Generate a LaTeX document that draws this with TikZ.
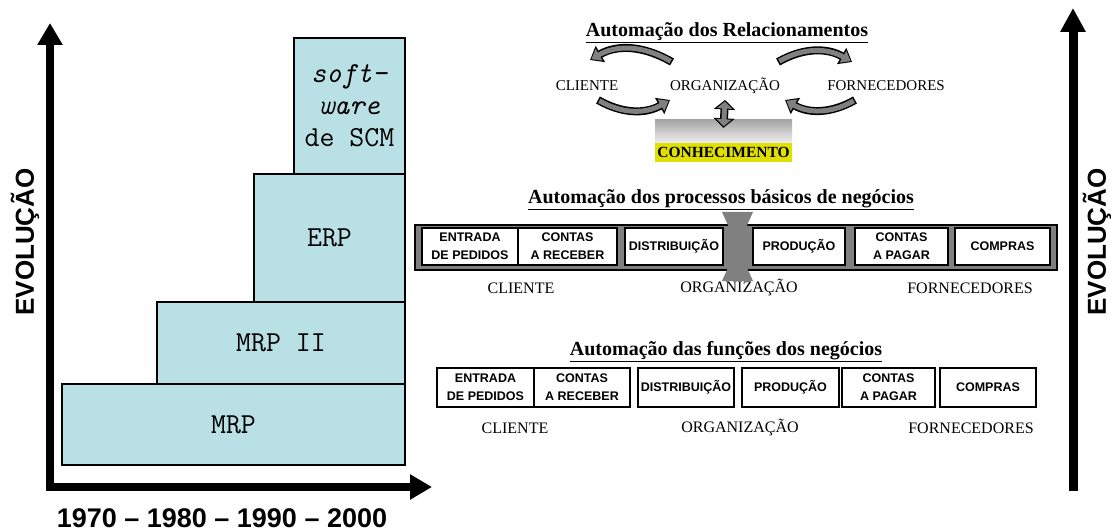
\documentclass[tikz,border=0pt]{standalone}
\usepackage{fontspec}
\setmainfont{Liberation Serif}
\setsansfont{Liberation Sans}
\usetikzlibrary{arrows.meta,positioning}

\definecolor{barteal}{RGB}{185,224,228}
\definecolor{arrgray}{RGB}{128,128,128}
\definecolor{knowyellow}{RGB}{224,224,0}

\begin{document}
\begin{tikzpicture}[
  x=1pt, y=1pt,
  stage/.style={draw=black, line width=1.5pt, fill=barteal, inner sep=0pt, align=center,
                font=\ttfamily\fontsize{29}{32}\selectfont},
  axis/.style={line width=8pt, line join=miter,
               {Triangle[length=22pt,width=24pt]}-{Triangle[length=22pt,width=24pt]}},
  evo/.style={font=\sffamily\bfseries\fontsize{26}{30}\selectfont, rotate=90, inner sep=0pt},
  heading/.style={font=\bfseries\fontsize{20}{24}\selectfont, inner sep=0pt},
  party/.style={font=\fontsize{16}{18}\selectfont, inner sep=0pt},
  fnbox/.style={draw=black, line width=1.8pt, fill=white, align=center, inner sep=0pt,
                minimum height=39pt, minimum width=#1,
                font=\sffamily\bfseries\fontsize{12.5}{18}\selectfont},
  prbox/.style={fnbox=#1, line width=1.5pt, minimum height=37pt},
  relarrow/.style={line width=5pt, draw=arrgray, shorten >=1.5pt, shorten <=1.5pt,
                   -{Triangle[length=9pt,width=13pt]},
                   preaction={draw=black, line width=8pt, shorten >=0pt, shorten <=0pt,
                              -{Triangle[length=12pt,width=18pt]}}},
  kbarrow/.style={line width=5pt, draw=arrgray, shorten >=1.5pt, shorten <=1.5pt,
                  {Triangle[length=7pt,width=15pt]}-{Triangle[length=7pt,width=15pt]},
                  preaction={draw=black, line width=8pt, shorten >=0pt, shorten <=0pt,
                             {Triangle[length=9.5pt,width=21pt]}-{Triangle[length=9.5pt,width=21pt]}}},
]
\useasboundingbox (0,0) rectangle (1111,531);

% Left: evolution of the systems
\node[stage, minimum width=343pt, minimum height=81pt] (mrp) at (233.5,106.5) {MRP};
\node[stage, minimum width=248pt, minimum height=82pt] (mrpii) at (281,188) {MRP II};
\node[stage, minimum width=151pt, minimum height=128pt] (erp) at (329.5,293) {ERP};
\node[stage, minimum width=111pt, minimum height=136pt] (scm) at (349.5,425)
  {\textit{soft-}\\\textit{ware}\\de SCM};

\draw[axis] (50,508) |- (432,44);
\node[evo] (evoleft) at (25,289) {EVOLUÇÃO};
\node[font=\sffamily\bfseries\fontsize{27}{30}\selectfont, inner sep=0pt] (years) at (222,13)
  {1970 – 1980 – 1990 – 2000};

% Right axis
\draw[line width=9pt, -{Triangle[length=24pt,width=24pt]}] (1073,40) -- (1073,523);
\node[evo] (evoright) at (1097,289) {EVOLUÇÃO};

% Top: relationships
\node[heading] (htop) at (727,498) {\underline{Automação dos Relacionamentos}};
\node[party, font=\fontsize{15}{18}\selectfont] (cliA) at (587,445) {CLIENTE};
\node[party, font=\fontsize{15}{18}\selectfont] (orgA) at (725,445) {ORGANIZAÇÃO};
\node[party, font=\fontsize{15}{18}\selectfont] (fornA) at (886,445) {FORNECEDORES};

\draw[relarrow] ([xshift=-53pt,yshift=24pt]orgA.center) to[out=150,in=30]
  ([xshift=3pt,yshift=26pt]cliA.center);
\draw[relarrow] ([xshift=53pt,yshift=24pt]orgA.center) to[out=30,in=150]
  ([xshift=-34pt,yshift=24pt]fornA.center);
\draw[relarrow] ([xshift=11pt,yshift=-14pt]cliA.center) to[out=-30,in=-150]
  ([xshift=-55pt,yshift=-14pt]orgA.center);
\draw[relarrow] ([xshift=-31pt,yshift=-14pt]fornA.center) to[out=-150,in=-30]
  ([xshift=60pt,yshift=-14pt]orgA.center);

\node[top color=gray!70, bottom color=gray!12, minimum width=137pt, minimum height=23pt,
      inner sep=0pt] (know) at (723.5,399.5) {};
\node[fill=knowyellow, minimum width=137pt, minimum height=19pt, inner sep=0pt,
      font=\bfseries\fontsize{15.5}{18}\selectfont, below=0pt of know] (conh) {CONHECIMENTO};
\draw[kbarrow] ([yshift=-14pt]orgA.center) -- ([yshift=-8pt]know.north);

% Middle: basic business processes
\node[heading] (hmid) at (721,331) {\underline{Automação dos processos básicos de negócios}};
\node[draw=black, line width=1.5pt, fill=arrgray, minimum width=642pt, minimum height=45pt]
  (prframe) at (736,283.5) {};
\node[prbox=96pt] (pr1) at (470,284.5) {ENTRADA\\DE PEDIDOS};
\node[prbox=99pt] (pr2) at (567.5,284.5) {CONTAS\\A RECEBER};
\node[prbox=98pt] (pr3) at (674,284.5) {DISTRIBUIÇÃO};
\node[prbox=92pt] (pr4) at (799,284.5) {PRODUÇÃO};
\node[prbox=93pt] (pr5) at (901.5,284.5) {CONTAS\\A PAGAR};
\node[prbox=95pt] (pr6) at (1002.5,284.5) {COMPRAS};
\fill[arrgray] (722,319) -- (753,319) -- (722,250) -- (753,250) -- cycle;

\node[party] (cliB) at (521,243) {CLIENTE};
\node[party] (orgB) at (739,243) {ORGANIZAÇÃO};
\node[party] (fornB) at (970,243) {FORNECEDORES};

% Bottom: business functions
\node[heading] (hbot) at (726,179) {\underline{Automação das funções dos negócios}};
\node[fnbox=97pt] (fn1) at (485.5,143.5) {ENTRADA\\DE PEDIDOS};
\node[fnbox=96pt] (fn2) at (582,143.5) {CONTAS\\A RECEBER};
\node[fnbox=96pt] (fn3) at (686,143.5) {DISTRIBUIÇÃO};
\node[fnbox=97pt] (fn4) at (790.5,143.5) {PRODUÇÃO};
\node[fnbox=93pt] (fn5) at (888.5,143.5) {CONTAS\\A PAGAR};
\node[fnbox=96pt] (fn6) at (988,143.5) {COMPRAS};

\node[party] (cliC) at (515,103) {CLIENTE};
\node[party] (orgC) at (740,103) {ORGANIZAÇÃO};
\node[party] (fornC) at (971,103) {FORNECEDORES};

\end{tikzpicture}
\end{document}
